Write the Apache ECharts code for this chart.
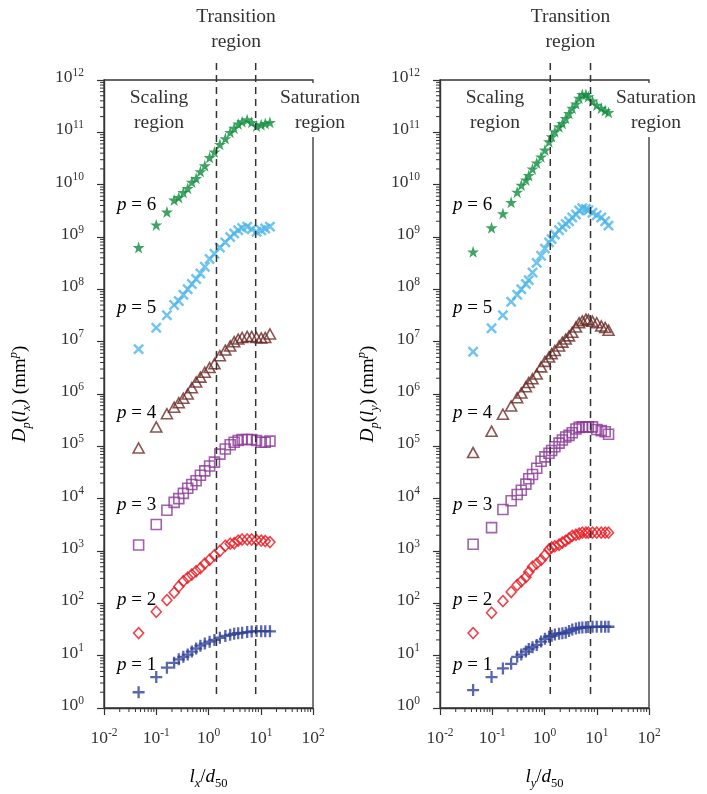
<!DOCTYPE html>
<html>
<head>
<meta charset="utf-8">
<script src="https://cdn.jsdelivr.net/npm/echarts@6/dist/echarts.min.js"></script>
<style>
  html, body { margin: 0; padding: 0; background: #fff; }
  #chart { width: 707px; height: 794px; }
</style>
</head>
<body>
<div id="chart"></div>
<script>
// Structure functions D_p(l) for p = 1..6, along x (left panel) and y (right panel)
const lagsX = [0.046, 0.1, 0.16, 0.22, 0.27, 0.33, 0.4, 0.48, 0.58, 0.7, 0.85, 1.05, 1.3, 1.65, 2.1, 2.6, 3.1, 3.7, 4.4, 5.5, 6.7, 8.3, 10.2, 12.2, 15];
const dX1 = [2.0, 3.9, 5.9, 7.3, 8.5, 9.5, 10.5, 12, 13.7, 15.5, 17, 18.5, 20, 22, 23.8, 25, 26.2, 26.8, 27.3, 28.3, 29, 29.5, 29.4, 29.3, 29.2];
const dX2 = [27, 69, 115, 160, 210, 265, 310, 355, 410, 470, 575, 680, 830, 1000, 1260, 1380, 1410, 1580, 1660, 1660, 1660, 1620, 1580, 1550, 1480];
const dX3 = [1.3e3, 3.2e3, 6.0e3, 8.5e3, 1.0e4, 1.26e4, 1.58e4, 1.86e4, 2.2e4, 2.8e4, 3.4e4, 4.2e4, 5.0e4, 7.1e4, 8.9e4, 1.07e5, 1.2e5, 1.29e5, 1.35e5, 1.35e5, 1.35e5, 1.29e5, 1.2e5, 1.2e5, 1.26e5];
const dX4 = [9.3e4, 2.35e5, 4.2e5, 5.6e5, 6.8e5, 8.3e5, 1.0e6, 1.32e6, 1.7e6, 2.1e6, 2.6e6, 3.2e6, 3.8e6, 5.4e6, 6.9e6, 8.3e6, 1.0e7, 1.12e7, 1.2e7, 1.26e7, 1.26e7, 1.2e7, 1.18e7, 1.2e7, 1.4e7];
const dX5 = [7.2e6, 1.85e7, 3.2e7, 5.0e7, 6.0e7, 7.9e7, 1.0e8, 1.26e8, 1.58e8, 2.0e8, 2.7e8, 3.8e8, 4.8e8, 6.3e8, 7.9e8, 1.0e9, 1.17e9, 1.35e9, 1.48e9, 1.58e9, 1.41e9, 1.26e9, 1.35e9, 1.45e9, 1.58e9];
const dX6 = [6.3e8, 1.7e9, 3.0e9, 5.1e9, 5.7e9, 7.1e9, 8.5e9, 1.12e10, 1.32e10, 1.78e10, 2.3e10, 3.3e10, 4.2e10, 5.9e10, 7.6e10, 1.0e11, 1.2e11, 1.45e11, 1.6e11, 1.74e11, 1.55e11, 1.32e11, 1.4e11, 1.48e11, 1.55e11];

const lagsY = [0.043, 0.097, 0.16, 0.23, 0.3, 0.36, 0.44, 0.5, 0.59, 0.71, 0.86, 1.02, 1.22, 1.37, 1.58, 1.9, 2.2, 2.55, 2.95, 3.4, 4.0, 4.6, 5.3, 6.2, 6.9, 8.3, 10, 12.2, 14.5, 16.8];
const dY1 = [2.2, 3.9, 5.7, 7.0, 9.5, 10.5, 12, 13.4, 14.5, 16, 18.6, 21, 23, 24, 25.5, 26.3, 26.8, 27.5, 29.5, 31.5, 33, 34, 34.5, 35, 35.3, 35.5, 35.5, 35.7, 35.7, 35.7];
const dY2 = [27, 66, 110, 165, 224, 263, 316, 398, 500, 575, 676, 830, 1070, 1170, 1230, 1320, 1450, 1580, 1740, 1950, 2040, 2140, 2240, 2240, 2240, 2240, 2240, 2240, 2240, 2240];
const dY3 = [1.35e3, 2.8e3, 6.2e3, 9.1e3, 1.2e4, 1.45e4, 1.9e4, 2.4e4, 2.9e4, 3.8e4, 5.2e4, 6.3e4, 7.4e4, 8.3e4, 9.8e4, 1.15e5, 1.32e5, 1.51e5, 1.62e5, 1.82e5, 2.14e5, 2.3e5, 2.35e5, 2.35e5, 2.35e5, 2.35e5, 2.1e5, 2.0e5, 1.9e5, 1.7e5];
const dY4 = [7.6e4, 1.95e5, 4.1e5, 5.9e5, 8.5e5, 1.05e6, 1.38e6, 1.66e6, 1.95e6, 2.4e6, 3.3e6, 4.2e6, 5.1e6, 5.9e6, 6.8e6, 8.3e6, 9.8e6, 1.12e7, 1.29e7, 1.51e7, 1.9e7, 2.3e7, 2.5e7, 2.7e7, 2.63e7, 2.45e7, 2.3e7, 2.0e7, 1.86e7, 1.66e7];
const dY5 = [6.4e6, 1.8e7, 3.2e7, 5.8e7, 7.9e7, 1.0e8, 1.26e8, 1.5e8, 2.1e8, 3.2e8, 4.4e8, 6.0e8, 7.9e8, 9.1e8, 1.12e9, 1.35e9, 1.55e9, 1.78e9, 2.0e9, 2.35e9, 2.7e9, 3.2e9, 3.55e9, 3.45e9, 3.25e9, 2.9e9, 2.6e9, 2.35e9, 2.0e9, 1.65e9];
const dY6 = [5.2e8, 1.5e9, 2.8e9, 4.6e9, 7.2e9, 9.8e9, 1.23e10, 1.5e10, 2.0e10, 2.6e10, 3.4e10, 4.6e10, 6.6e10, 8.3e10, 1.03e11, 1.28e11, 1.48e11, 1.85e11, 2.3e11, 2.9e11, 3.5e11, 4.5e11, 5.3e11, 5.3e11, 4.8e11, 4.0e11, 3.3e11, 2.9e11, 2.6e11, 2.4e11];

// Boundaries of the transition region in each direction
const transitionX = [1.42, 8.0];
const transitionY = [1.29, 7.6];

// Axis decades
const xTickExps = [-2, -1, 0, 1, 2];
const yTickExps = [0, 1, 2, 3, 4, 5, 6, 7, 8, 9, 10, 11, 12];
const pLabels = ['p = 1', 'p = 2', 'p = 3', 'p = 4', 'p = 5', 'p = 6'];

const SERIF = 'Liberation Serif';
const INK = '#333';

const PLUS = 'path://M0,4.05H10V5.95H0Z M4.05,0H5.95V10H4.05Z';
const STAR = 'path://M50,0L61.2,34.5H97.6L68.2,55.9L79.4,90.5L50,69.1L20.6,90.5L31.8,55.9L2.4,34.5H38.8Z';

const styles = [
  { symbol: PLUS, size: 12, rotate: 0, color: '#2f4199', filled: true },
  { symbol: 'diamond', size: [10, 11], rotate: 0, color: '#e8161e', filled: false },
  { symbol: 'rect', size: 10, rotate: 0, color: '#8c3a98', filled: false },
  { symbol: 'triangle', size: [11, 10], rotate: 0, color: '#6b2a26', filled: false },
  { symbol: PLUS, size: 13, rotate: 45, color: '#4cb5e8', filled: true },
  { symbol: STAR, size: 12, rotate: 0, color: '#0e8c3c', filled: true }
];

function buildSeries(gridIdx, lags, sets) {
  return sets.map((vals, k) => {
    const st = styles[k];
    return {
      type: 'scatter',
      name: pLabels[k],
      xAxisIndex: gridIdx,
      yAxisIndex: gridIdx,
      symbol: st.symbol,
      symbolSize: st.size,
      symbolRotate: st.rotate,
      data: lags.map((l, i) => [l, vals[i]]),
      itemStyle: st.filled
        ? { color: st.color }
        : { color: 'rgba(0,0,0,0)', borderColor: st.color, borderWidth: 1.6 },
      emphasis: { disabled: true },
      z: 3
    };
  });
}

const tickRich = {
  b: { fontFamily: SERIF, fontSize: 17.5, lineHeight: 22, color: INK },
  s: { fontFamily: SERIF, fontSize: 11.5, lineHeight: 14, verticalAlign: 'top', color: INK }
};
const expLabel = v => '{b|10}{s|' + Math.round(Math.log10(v)) + '}';

function xAxis(g) {
  return {
    type: 'log', logBase: 10, gridIndex: g, min: Math.pow(10, xTickExps[0]), max: Math.pow(10, xTickExps[xTickExps.length - 1]),
    interval: 1,
    axisLine: { show: true, lineStyle: { color: INK, width: 1.4 } },
    axisTick: { show: true, length: 7, lineStyle: { color: INK, width: 1.2 } },
    axisLabel: { margin: 19, formatter: expLabel, rich: tickRich },
    splitLine: { show: false }, minorTick: { show: false }
  };
}
function yAxis(g) {
  return {
    type: 'log', logBase: 10, gridIndex: g, min: Math.pow(10, yTickExps[0]), max: Math.pow(10, yTickExps[yTickExps.length - 1]),
    interval: 1,
    axisLine: { show: true, lineStyle: { color: INK, width: 1.4 } },
    axisTick: { show: true, length: 7, lineStyle: { color: INK, width: 1.2 } },
    axisLabel: { margin: 20, padding: [0, 0, 5, 0], formatter: expLabel, rich: tickRich },
    splitLine: { show: false }, minorTick: { show: false }
  };
}

const chart = echarts.init(document.getElementById('chart'), null, { renderer: 'canvas' });
chart.setOption({
  animation: false,
  backgroundColor: '#fff',
  grid: [
    { left: 104, top: 80, width: 209, height: 628, show: true, borderColor: INK, borderWidth: 1.3, backgroundColor: 'transparent' },
    { left: 440, top: 80, width: 209, height: 628, show: true, borderColor: INK, borderWidth: 1.3, backgroundColor: 'transparent' }
  ],
  xAxis: [xAxis(0), xAxis(1)],
  yAxis: [yAxis(0), yAxis(1)],
  series: buildSeries(0, lagsX, [dX1, dX2, dX3, dX4, dX5, dX6])
    .concat(buildSeries(1, lagsY, [dY1, dY2, dY3, dY4, dY5, dY6]))
});

// Decorations placed through the axes' own scales
function px(g, x, y) { return chart.convertToPixel({ xAxisIndex: g, yAxisIndex: g }, [x, y]); }

const gfx = [];
const mathRich = {
  m: { fontFamily: SERIF, fontSize: 19, lineHeight: 26, color: INK },
  i: { fontFamily: SERIF, fontSize: 19, lineHeight: 26, fontStyle: 'italic', color: INK },
  sb: { fontFamily: SERIF, fontSize: 12.5, lineHeight: 14, verticalAlign: 'bottom', fontStyle: 'italic', color: INK },
  sbr: { fontFamily: SERIF, fontSize: 12.5, lineHeight: 14, verticalAlign: 'bottom', color: INK },
  sp: { fontFamily: SERIF, fontSize: 12.5, lineHeight: 14, verticalAlign: 'top', fontStyle: 'italic', color: INK }
};

function addText(x, y, text, extra) {
  gfx.push({
    type: 'text', x: x, y: y, z: 50,
    style: Object.assign({
      text: text, fontFamily: SERIF, fontSize: 19.5, lineHeight: 25, fill: INK,
      align: 'center', verticalAlign: 'middle'
    }, extra || {})
  });
}

[[0, transitionX, 'x'], [1, transitionY, 'y']].forEach(([g, bounds, dir]) => {
  const bl = px(g, Math.pow(10, xTickExps[0]), 1);
  const tr = px(g, Math.pow(10, xTickExps[xTickExps.length - 1]), 1e12);
  const left = bl[0], bottom = bl[1], right = tr[0], top = tr[1];

  // Minor ticks at 2..9 within each decade
  for (let e = xTickExps[0]; e < xTickExps[xTickExps.length - 1]; e++) {
    for (let m = 2; m <= 9; m++) {
      const p = px(g, m * Math.pow(10, e), 1);
      gfx.push({ type: 'line', z: 5, shape: { x1: p[0], y1: bottom, x2: p[0], y2: bottom + 4 }, style: { stroke: INK, lineWidth: 1 } });
    }
  }
  for (let e = yTickExps[0]; e < yTickExps[yTickExps.length - 1]; e++) {
    for (let m = 2; m <= 9; m++) {
      const p = px(g, Math.pow(10, xTickExps[0]), m * Math.pow(10, e));
      gfx.push({ type: 'line', z: 5, shape: { x1: left - 4, y1: p[1], x2: left, y2: p[1] }, style: { stroke: INK, lineWidth: 1 } });
    }
  }

  // Transition region boundaries
  bounds.forEach(b => {
    const p = px(g, b, 1);
    gfx.push({ type: 'line', z: 4, shape: { x1: p[0], y1: top - 17, x2: p[0], y2: bottom - 13 }, style: { stroke: INK, lineWidth: 1.5, lineDash: [7, 5] } });
  });

  const midT = (px(g, bounds[0], 1)[0] + px(g, bounds[1], 1)[0]) / 2;
  addText(midT, 29, 'Transition\nregion', { backgroundColor: '#fff' });
  addText(left + 55, 110, 'Scaling\nregion', { backgroundColor: '#fff' });
  addText(right + 7, 110, 'Saturation\nregion', { backgroundColor: '#fff', padding: [2, 2, 2, 2] });

  // p labels beside each curve
  const labelY = [665, 600, 505, 413, 308, 205];
  labelY.forEach((yy, k) => {
    gfx.push({
      type: 'text', x: left + 13, y: yy, z: 50,
      style: { text: '{i|p}{m| = ' + (k + 1) + '}', rich: mathRich, align: 'left', verticalAlign: 'middle' }
    });
  });

  // Axis titles
  gfx.push({
    type: 'text', x: (left + right) / 2, y: 777, z: 50,
    style: { text: '{i|l}{sb|' + dir + '}{m|/}{i|d}{sbr|50}', rich: mathRich, align: 'center', verticalAlign: 'middle' }
  });
  gfx.push({
    type: 'text', x: left - (g === 0 ? 84 : 72), y: (top + bottom) / 2, z: 50, rotation: Math.PI / 2,
    style: { text: '{i|D}{sb|p}{m|(}{i|l}{sb|' + dir + '}{m|) (mm}{sp|p}{m|)}', rich: mathRich, align: 'center', verticalAlign: 'middle' }
  });
});

chart.setOption({ graphic: gfx });
</script>
</body>
</html>
